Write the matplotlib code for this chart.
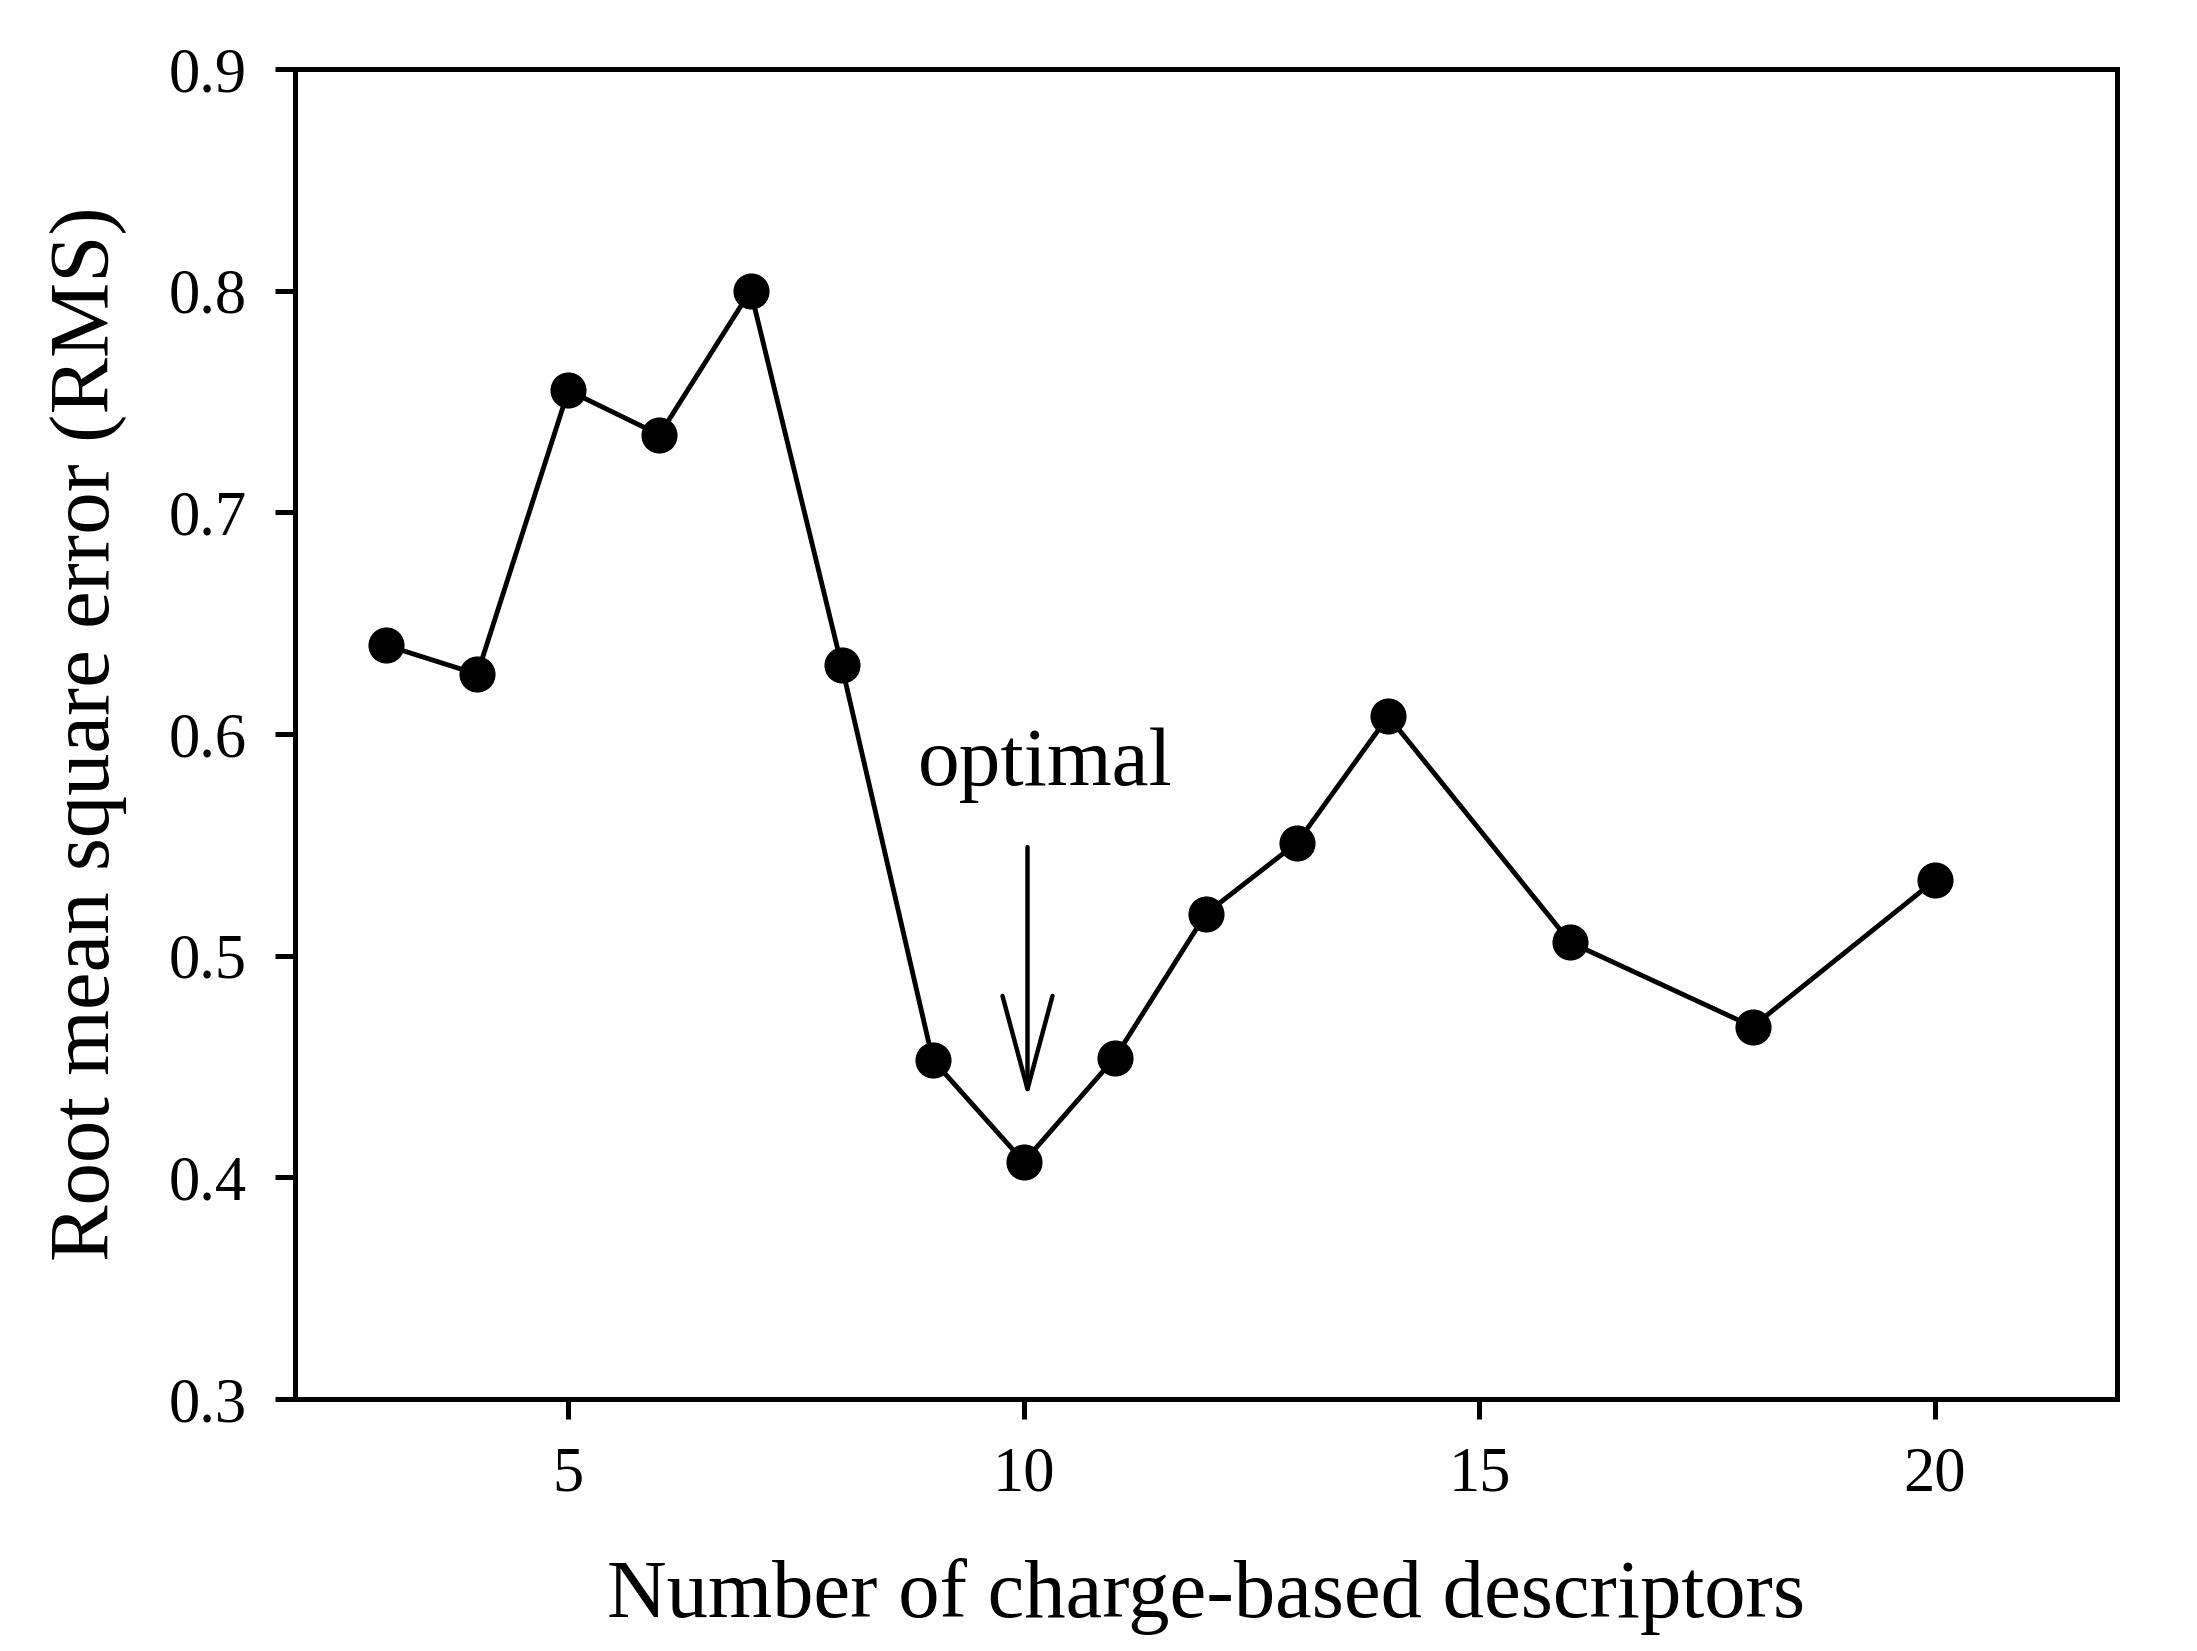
import matplotlib
matplotlib.use("Agg")
import matplotlib.pyplot as plt

n_descriptors = [3, 4, 5, 6, 7, 8, 9, 10, 11, 12, 13, 14, 16, 18, 20]
rms = [0.640, 0.627, 0.755, 0.735, 0.800, 0.631, 0.453, 0.407,
       0.454, 0.519, 0.551, 0.608, 0.506, 0.468, 0.534]
x_ticks = [5, 10, 15, 20]
y_ticks = [0.3, 0.4, 0.5, 0.6, 0.7, 0.8, 0.9]

plt.rcParams["font.family"] = ["Liberation Serif", "DejaVu Serif"]

fig = plt.figure(figsize=(21.97, 16.51), dpi=100)
ax = fig.add_axes([0.1343, 0.1526, 0.8293, 0.8056])

ax.plot(n_descriptors, rms, color="black", linewidth=3.5,
        marker="o", markersize=25, markerfacecolor="black",
        markeredgecolor="black")

# arrow pointing at the optimum
ax.annotate("", xy=(10.04, 0.436), xytext=(10.04, 0.549),
            arrowprops=dict(arrowstyle="->,head_length=6.7,head_width=1.8",
                            color="black", lw=3.2, shrinkA=0, shrinkB=0))
ax.text(8.84, 0.577, "optimal", fontsize=60, ha="left", va="baseline")

ax.set_xlim(2, 22)
ax.set_ylim(0.3, 0.9)
ax.set_xticks(x_ticks)
ax.set_yticks(y_ticks)
ax.set_yticklabels([f"{v:.1f}" for v in y_ticks])

ax.set_xlabel("Number of charge-based descriptors", fontsize=59.5, labelpad=38)
ax.set_ylabel("Root mean square error (RMS)", fontsize=61, labelpad=30)

ax.tick_params(axis="both", direction="out", length=14.5, width=3.6,
               labelsize=45, pad=20)
ax.tick_params(top=False, right=False)
for s in ax.spines.values():
    s.set_linewidth(3.6)

fig.savefig("out.png", dpi=100)
